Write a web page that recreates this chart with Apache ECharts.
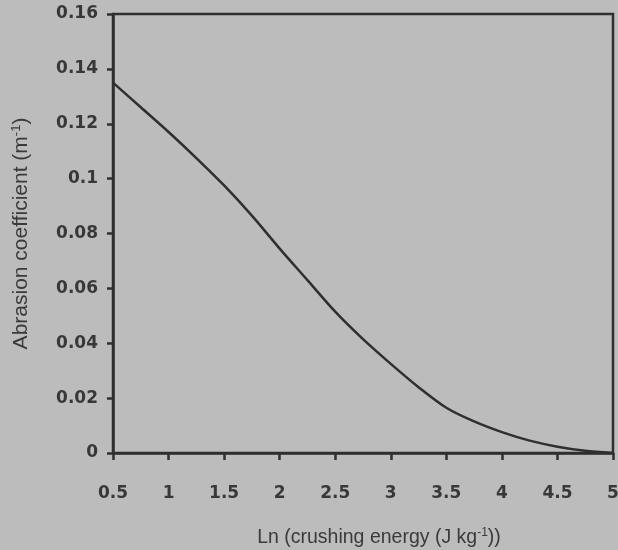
<!DOCTYPE html>
<html>
<head>
<meta charset="utf-8">
<script src="https://cdn.jsdelivr.net/npm/echarts@6/dist/echarts.min.js"></script>
<style>
html,body{margin:0;padding:0;background:#bcbcbc;}
#c{width:618px;height:550px;}
</style>
</head>
<body>
<div id="c"></div>
<script>
const xValues = [0.5, 0.75, 1, 1.25, 1.5, 1.75, 2, 2.25, 2.5, 2.75, 3, 3.25, 3.5, 3.75, 4, 4.25, 4.5, 4.75, 5];
const yValues = [0.135, 0.126, 0.117, 0.1075, 0.0975, 0.0865, 0.0745, 0.063, 0.0515, 0.0415, 0.0325, 0.024, 0.0165, 0.0115, 0.0076, 0.0045, 0.0023, 0.0008, 0.0];
const xName = 'Ln (crushing energy (J kg';
const yName = 'Abrasion coefficient (m';

const ink = '#2f2f2f';
const font = 'Liberation Sans, Arial, sans-serif';
const boldFont = 'DejaVu Sans, Liberation Sans, sans-serif';
const chart = echarts.init(document.getElementById('c'));
chart.setOption({
  backgroundColor: '#bcbcbc',
  animation: false,
  grid: {left: 113, right: 5, top: 14, bottom: 97, containLabel: false, outerBoundsMode: 'none',
         show: true, borderColor: ink, borderWidth: 2.5, backgroundColor: 'transparent'},
  xAxis: {
    type: 'value', min: 0.5, max: 5, interval: 0.5,
    axisLine: {show: true, onZero: false, lineStyle: {color: ink, width: 2.5}},
    axisTick: {show: true, length: 7, lineStyle: {color: ink, width: 2.5}},
    axisLabel: {margin: 32, color: '#383838', fontSize: 17, fontWeight: 'bold', fontFamily: boldFont},
    splitLine: {show: false},
    name: '{n|' + xName + '}{s|-1}{n|))}',
    nameLocation: 'middle', nameGap: 74,
    nameTextStyle: {
      padding: [0, 0, 0, 32],
      rich: {
        n: {fontSize: 19.5, color: '#3a3a3a', fontFamily: font},
        s: {fontSize: 12, color: '#3a3a3a', fontFamily: font, verticalAlign: 'top', padding: [0, 0, 9, 0]}
      }
    }
  },
  yAxis: {
    type: 'value', min: 0, max: 0.16, interval: 0.02,
    axisLine: {show: true, onZero: false, lineStyle: {color: ink, width: 2.5}},
    axisTick: {show: true, length: 6, lineStyle: {color: ink, width: 2.5}},
    axisLabel: {margin: 15, color: '#383838', fontSize: 17, fontWeight: 'bold', fontFamily: boldFont},
    splitLine: {show: false},
    name: '{n|' + yName + '}{s|-1}{n|)}',
    nameLocation: 'middle', nameGap: 80,
    nameTextStyle: {
      rich: {
        n: {fontSize: 21, color: '#3a3a3a', fontFamily: font},
        s: {fontSize: 13, color: '#3a3a3a', fontFamily: font, verticalAlign: 'top', padding: [0, 0, 10, 0]}
      }
    }
  },
  series: [{
    type: 'line',
    data: xValues.map((x, i) => [x, yValues[i]]),
    smooth: 0.3,
    showSymbol: false,
    lineStyle: {color: ink, width: 2.5}
  }]
});
</script>
</body>
</html>
